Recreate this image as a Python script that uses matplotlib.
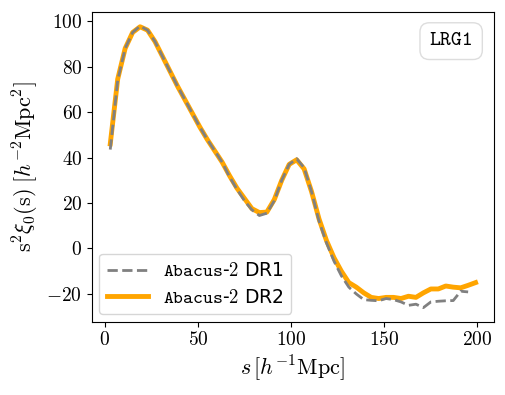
import matplotlib
matplotlib.use("Agg")
import matplotlib.pyplot as plt
import numpy as np

s_dr2 = np.arange(3, 200, 4)
s_dr1 = np.arange(3, 196, 4)

xi_dr2 = [46, 74.5, 88, 95, 97.5, 96, 91, 84.5, 78, 71.5,
          65.5, 59.5, 53.5, 48, 43, 38, 32, 26.5, 22, 17.5,
          15.8, 16, 21.5, 30, 37, 39, 35, 25, 13, 3.5,
          -4, -10, -15, -17, -19.5, -21.5, -22, -21.5, -21.5, -22,
          -21, -21.5, -19.5, -17.8, -17.8, -16.5, -17, -17.3, -16.2, -15]

xi_dr1 = [43.5, 74, 88, 95, 97.8, 96, 91, 84.5, 78, 71.5,
          65.5, 59.5, 53.5, 48, 43, 38, 31.5, 26, 21, 17,
          14.5, 15.5, 21, 30, 37, 39.5, 35.5, 25, 12, 2.5,
          -5.5, -12, -17, -20, -22.5, -22.8, -23, -22, -22.5, -23.5,
          -25, -24.5, -26, -23.5, -23.2, -23, -22.9, -18.8, -19.1]

label_dr1 = r"$\mathtt{Abacus}$-$\mathtt{2}$ DR1"
label_dr2 = r"$\mathtt{Abacus}$-$\mathtt{2}$ DR2"
tracer = "LRG1"

plt.rcParams['font.family'] = 'serif'
plt.rcParams['font.serif'] = ['cmr10']
plt.rcParams['mathtext.fontset'] = 'cm'
plt.rcParams['axes.formatter.use_mathtext'] = True

fig = plt.figure(figsize=(5.06, 3.95), dpi=100)
ax = fig.add_axes([0.1818, 0.1856, 0.7942, 0.784])

ax.plot(s_dr1, xi_dr1, color='grey', ls='--', lw=2, zorder=3, label=label_dr1)
ax.plot(s_dr2, xi_dr2, color='orange', ls='-', lw=3.5, zorder=2, label=label_dr2)

ax.set_xticks([0, 50, 100, 150, 200])
ax.set_yticks([-20, 0, 20, 40, 60, 80, 100])
ax.tick_params(labelsize=14)
ax.set_xlabel(r"$s\,[h^{-1}\mathrm{Mpc}]$", fontsize=16, labelpad=3)
ax.set_ylabel(r"$\mathrm{s}^2\xi_0(\mathrm{s})\;[h^{-2}\mathrm{Mpc}^2]$", fontsize=16, labelpad=4)

leg = ax.legend(loc='lower left', prop={'family': 'DejaVu Sans', 'size': 13.5},
                handlelength=2.2, labelspacing=0.4, borderaxespad=0.4)

ax.text(0.948, 0.935, tracer, transform=ax.transAxes, ha='right', va='top',
        fontfamily='cmtt10', fontsize=15,
        bbox=dict(boxstyle='round,pad=0.45', facecolor='white', edgecolor='#dddddd'))

fig.savefig("out.png", dpi=100)
